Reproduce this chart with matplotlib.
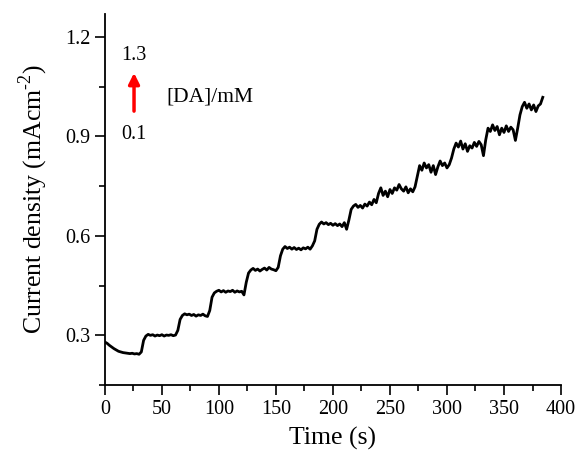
import matplotlib
matplotlib.use('Agg')
import matplotlib.pyplot as plt
from matplotlib.ticker import MultipleLocator

# =============================================================================
# Amperometric response, successive DA additions (0.1 -> 1.3 mM)
# =============================================================================
time_s = list(range(0, 386, 2))

current = [
    0.280, 0.276, 0.270, 0.265, 0.260, 0.256, 0.252, 0.250, 0.248, 0.247,
    0.246, 0.245, 0.246, 0.244, 0.245, 0.243, 0.250, 0.285, 0.298, 0.303,
    0.300, 0.302, 0.298, 0.301, 0.299, 0.302, 0.298, 0.301, 0.300, 0.302,
    0.299, 0.301, 0.315, 0.348, 0.360, 0.365, 0.362, 0.364, 0.360, 0.363,
    0.358, 0.362, 0.360, 0.364, 0.359, 0.357, 0.375, 0.415, 0.428, 0.433,
    0.436, 0.431, 0.435, 0.430, 0.434, 0.432, 0.436, 0.430, 0.434, 0.431,
    0.433, 0.422, 0.460, 0.488, 0.497, 0.502, 0.496, 0.500, 0.494, 0.499,
    0.503, 0.497, 0.505, 0.500, 0.498, 0.495, 0.505, 0.540, 0.560, 0.568,
    0.562, 0.566, 0.560, 0.565, 0.559, 0.563, 0.558, 0.564, 0.561, 0.566,
    0.560, 0.570, 0.585, 0.620, 0.635, 0.642, 0.636, 0.640, 0.634, 0.638,
    0.632, 0.637, 0.631, 0.636, 0.628, 0.640, 0.620, 0.648, 0.680, 0.690,
    0.695, 0.686, 0.692, 0.684, 0.696, 0.690, 0.702, 0.694, 0.710, 0.700,
    0.728, 0.745, 0.722, 0.735, 0.718, 0.740, 0.728, 0.745, 0.738, 0.755,
    0.742, 0.735, 0.748, 0.730, 0.742, 0.733, 0.748, 0.780, 0.812, 0.798,
    0.820, 0.805, 0.815, 0.792, 0.812, 0.785, 0.808, 0.826, 0.812, 0.820,
    0.805, 0.815, 0.835, 0.862, 0.880, 0.868, 0.886, 0.862, 0.878, 0.855,
    0.872, 0.865, 0.882, 0.870, 0.885, 0.875, 0.842, 0.890, 0.925, 0.915,
    0.935, 0.918, 0.930, 0.905, 0.925, 0.912, 0.932, 0.915, 0.928, 0.920,
    0.888, 0.925, 0.965, 0.990, 1.003, 0.985, 0.998, 0.980, 0.995, 0.975,
    0.992, 0.998, 1.018,
]

conc_low = '0.1'
conc_high = '1.3'

plt.rcParams['font.family'] = ['Liberation Serif', 'DejaVu Serif']
plt.rcParams['mathtext.fontset'] = 'custom'
plt.rcParams['mathtext.rm'] = 'Liberation Serif'

fig = plt.figure(figsize=(5.76, 4.59), dpi=100)
ax = fig.add_axes([0.182, 0.161, 0.792, 0.809])

ax.plot(time_s, current, color='black', lw=2.0)

# arrow + concentration range
ax.annotate('', xy=(25.6, 1.100), xytext=(25.6, 0.968),
            arrowprops=dict(arrowstyle='-|>', color='red', lw=2.5,
                            mutation_scale=16))
ax.text(25.6, 1.143, conc_high, ha='center', va='center', fontsize=14.5)
ax.text(25.6, 0.907, conc_low, ha='center', va='center', fontsize=14.5)
ax.text(54, 1.019, '[DA]/mM', ha='left', va='center', fontsize=15.5)

ax.set_xlim(0, 400)
ax.set_ylim(0.15, 1.27)
ax.xaxis.set_major_locator(MultipleLocator(50))
ax.xaxis.set_minor_locator(MultipleLocator(25))
ax.yaxis.set_minor_locator(MultipleLocator(0.15))
ax.set_yticks([0.3, 0.6, 0.9, 1.2])

for side in ['top', 'right']:
    ax.spines[side].set_visible(False)
for side in ['left', 'bottom']:
    ax.spines[side].set_linewidth(1.3)

ax.tick_params(which='major', direction='out', length=7, width=1.2,
               labelsize=14.5)
ax.tick_params(which='minor', direction='out', length=4, width=1.2)

ax.set_xlabel('Time (s)', fontsize=18.5, labelpad=6)
ax.set_ylabel(r'Current density (mAcm$^{\mathrm{\text{-}2}}$)', fontsize=18.5,
              labelpad=11)

fig.savefig('out.png', dpi=100)
